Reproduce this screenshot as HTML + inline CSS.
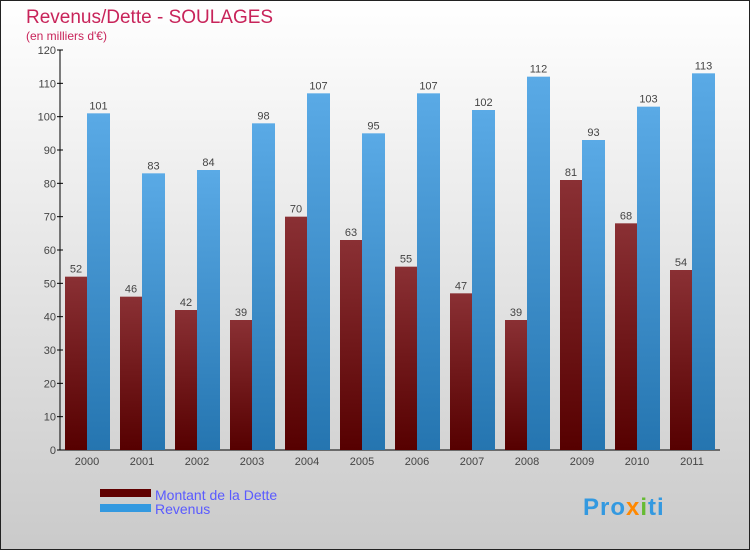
<!DOCTYPE html>
<html><head><meta charset="utf-8"><style>
body{margin:0;}
#wrap{width:750px;height:550px;position:relative;overflow:hidden;font-family:"Liberation Sans",sans-serif;}
</style></head><body>
<div id="wrap">
<svg id="svg" width="750" height="550" xmlns="http://www.w3.org/2000/svg">
<defs>
<linearGradient id="bg" x1="0" y1="0" x2="0" y2="1"><stop offset="0" stop-color="#ffffff"/><stop offset="1" stop-color="#cacaca"/></linearGradient>
<linearGradient id="gd" x1="0" y1="0" x2="0" y2="1"><stop offset="0" stop-color="#8a3034"/><stop offset="1" stop-color="#560000"/></linearGradient>
<linearGradient id="gr" x1="0" y1="0" x2="0" y2="1"><stop offset="0" stop-color="#5aaae6"/><stop offset="1" stop-color="#2575b0"/></linearGradient>
</defs>
<rect x="0.5" y="0.5" width="749" height="549" fill="url(#bg)" stroke="#222"/>
<text x="26" y="23" font-size="19" fill="#c8245a">Revenus/Dette - SOULAGES</text>
<text x="26" y="40" font-size="12" fill="#c8245a">(en milliers d'€)</text>
<g id="axes"></g>
<g id="bars"></g>
<g>
<rect x="100" y="489" width="51" height="8" fill="#600000"/>
<text x="155" y="500" font-size="14" fill="#5a5aff">Montant de la Dette</text>
<rect x="100" y="504" width="51" height="8" fill="#3399e0"/>
<text x="155" y="514" font-size="14" fill="#5a5aff">Revenus</text>
</g>
<text x="583" y="515" font-size="24" font-weight="bold" fill="#3399e0" letter-spacing="1">Pro<tspan fill="#ff8800">x</tspan><tspan fill="#66bb33">i</tspan>ti</text>
</svg>
</div>
<script>
const years=["2000","2001","2002","2003","2004","2005","2006","2007","2008","2009","2010","2011"];
const dette=[52,46,42,39,70,63,55,47,39,81,68,54];
const revenus=[101,83,84,98,107,95,107,102,112,93,103,113];
const yTicks=[0,10,20,30,40,50,60,70,80,90,100,110,120];
const NS="http://www.w3.org/2000/svg";
const x0=60,x1=720,y0=450,yTop=50,yMax=120;
function yS(v){return y0-(v/yMax)*(y0-yTop);}
function xC(i){return 87+i*55;}
function mk(tag,attrs,parent){const e=document.createElementNS(NS,tag);for(const k in attrs)e.setAttribute(k,attrs[k]);parent.appendChild(e);return e;}
const ax=document.getElementById('axes'),bg=document.getElementById('bars');
let l=mk('line',{x1:x0,y1:yTop,x2:x0,y2:y0,stroke:'#000'},ax);


l=mk('line',{x1:x0,y1:y0,x2:x1,y2:y0,stroke:'#000'},ax);


yTicks.forEach(v=>{
 const t=mk('line',{x1:x0-3,y1:yS(v),x2:x0+3,y2:yS(v),stroke:'#000'},ax);
 
 
 const tx=mk('text',{x:x0-4,y:yS(v)+4,'font-size':11,'text-anchor':'end',fill:'#444'},ax);
 tx.textContent=v;
 
 
});
years.forEach((yr,i)=>{
 const c=xC(i);
 const tx=mk('text',{x:c,y:y0+15,'font-size':11,'text-anchor':'middle',fill:'#444'},ax);
 tx.textContent=yr;
 
 
 const b1=mk('rect',{x:c-22,y:yS(dette[i]),width:22,height:y0-yS(dette[i]),fill:'url(#gd)'},bg);
 
 
 const b2=mk('rect',{x:c,y:yS(revenus[i]),width:23,height:y0-yS(revenus[i]),fill:'url(#gr)'},bg);
 
 
 const v1=mk('text',{x:c-11,y:yS(dette[i])-4,'font-size':11,'text-anchor':'middle',fill:'#444'},bg);
 v1.textContent=dette[i];
 
 
 const v2=mk('text',{x:c+11.5,y:yS(revenus[i])-4,'font-size':11,'text-anchor':'middle',fill:'#444'},bg);
 v2.textContent=revenus[i];
 
 
});
</script>
</body></html>
